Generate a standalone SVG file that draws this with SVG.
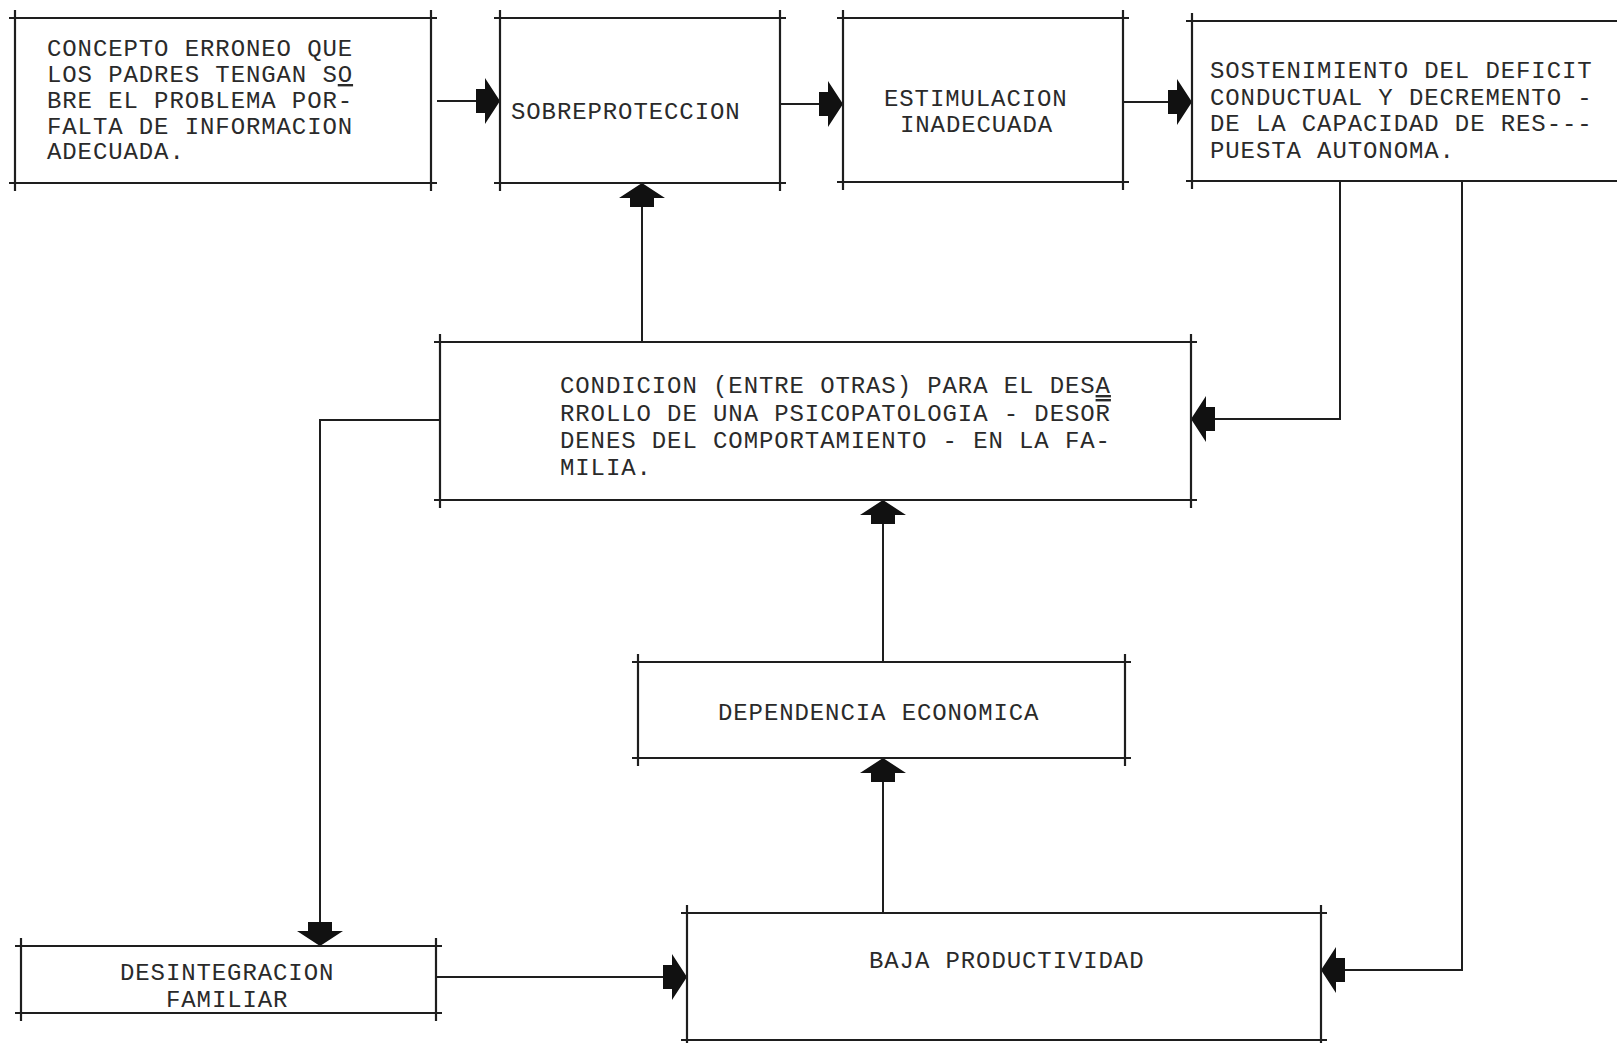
<svg xmlns="http://www.w3.org/2000/svg" width="1617" height="1043" viewBox="0 0 1617 1043">
<style>
.bx{fill:none;stroke:#1e1e1e;stroke-width:2.2}
.cn{fill:none;stroke:#1e1e1e;stroke-width:2;marker-end:url(#ah)}
text{font-family:"Liberation Mono","DejaVu Sans Mono",monospace;font-size:24px;letter-spacing:0.9px;fill:#2a2a2a}
.u{text-decoration:underline}
.o{text-decoration:overline}
</style>
<defs>
<marker id="ah" markerUnits="userSpaceOnUse" viewBox="-26 -25 27 50" refX="0" refY="0" markerWidth="27" markerHeight="50" orient="auto">
<path d="M-24,-12 L-15,-12 L-15,-23 L0,0 L-15,23 L-15,12 L-24,12 Z" fill="#111"/>
</marker>
</defs>
<rect width="1617" height="1043" fill="#ffffff"/>
<g id="connectors">
<path class="cn" d="M437,101 H500"/>
<path class="cn" d="M780,104 H843"/>
<path class="cn" d="M1123,102 H1192"/>
<path class="cn" d="M642,342 V183"/>
<path class="cn" d="M1340,181 V419 H1191"/>
<path class="cn" d="M1462,181 V970 H1321"/>
<path class="cn" d="M440,420 H320 V946"/>
<path class="cn" d="M883,662 V500"/>
<path class="cn" d="M883,913 V758"/>
<path class="cn" d="M436,977 H687"/>
</g>
<g id="concepto">
<path class="bx" d="M9,18 H437 M9,183 H437 M15,10 V191 M431,10 V191"/>
<text x="47" y="56">CONCEPTO ERRONEO QUE</text>
<text x="47" y="82">LOS PADRES TENGAN S<tspan class="u">O</tspan></text>
<text x="47" y="108">BRE EL PROBLEMA POR-</text>
<text x="47" y="134">FALTA DE INFORMACION</text>
<text x="47" y="159">ADECUADA.</text>
</g>
<g id="sobreproteccion">
<path class="bx" d="M494,18 H786 M494,183 H786 M500,10 V191 M780,10 V191"/>
<text x="511" y="119">SOBREPROTECCION</text>
</g>
<g id="estimulacion">
<path class="bx" d="M837,18 H1129 M837,182 H1129 M843,10 V190 M1123,10 V190"/>
<text x="884" y="106">ESTIMULACION</text>
<text x="900" y="132">INADECUADA</text>
</g>
<g id="sostenimiento">
<path class="bx" d="M1186,21 H1625 M1186,181 H1625 M1192,13 V189"/>
<text x="1210" y="78">SOSTENIMIENTO DEL DEFICIT</text>
<text x="1210" y="105">CONDUCTUAL Y DECREMENTO -</text>
<text x="1210" y="131">DE LA CAPACIDAD DE RES---</text>
<text x="1210" y="158">PUESTA AUTONOMA.</text>
</g>
<g id="condicion">
<path class="bx" d="M434,342 H1197 M434,500 H1197 M440,334 V508 M1191,334 V508"/>
<text x="560" y="393">CONDICION (ENTRE OTRAS) PARA EL DES<tspan class="u">A</tspan></text>
<text x="560" y="421">RROLLO DE UNA PSICOPATOLOGIA - DESO<tspan class="o">R</tspan></text>
<text x="560" y="448">DENES DEL COMPORTAMIENTO - EN LA FA-</text>
<text x="560" y="475">MILIA.</text>
</g>
<g id="dependencia">
<path class="bx" d="M632,662 H1131 M632,758 H1131 M638,654 V766 M1125,654 V766"/>
<text x="718" y="720">DEPENDENCIA ECONOMICA</text>
</g>
<g id="baja">
<path class="bx" d="M681,913 H1327 M681,1040 H1327 M687,905 V1043 M1321,905 V1043"/>
<text x="869" y="968">BAJA PRODUCTIVIDAD</text>
</g>
<g id="desintegracion">
<path class="bx" d="M15,946 H442 M15,1013 H442 M21,938 V1021 M436,938 V1021"/>
<text x="120" y="980">DESINTEGRACION</text>
<text x="166" y="1007">FAMILIAR</text>
</g>
</svg>
